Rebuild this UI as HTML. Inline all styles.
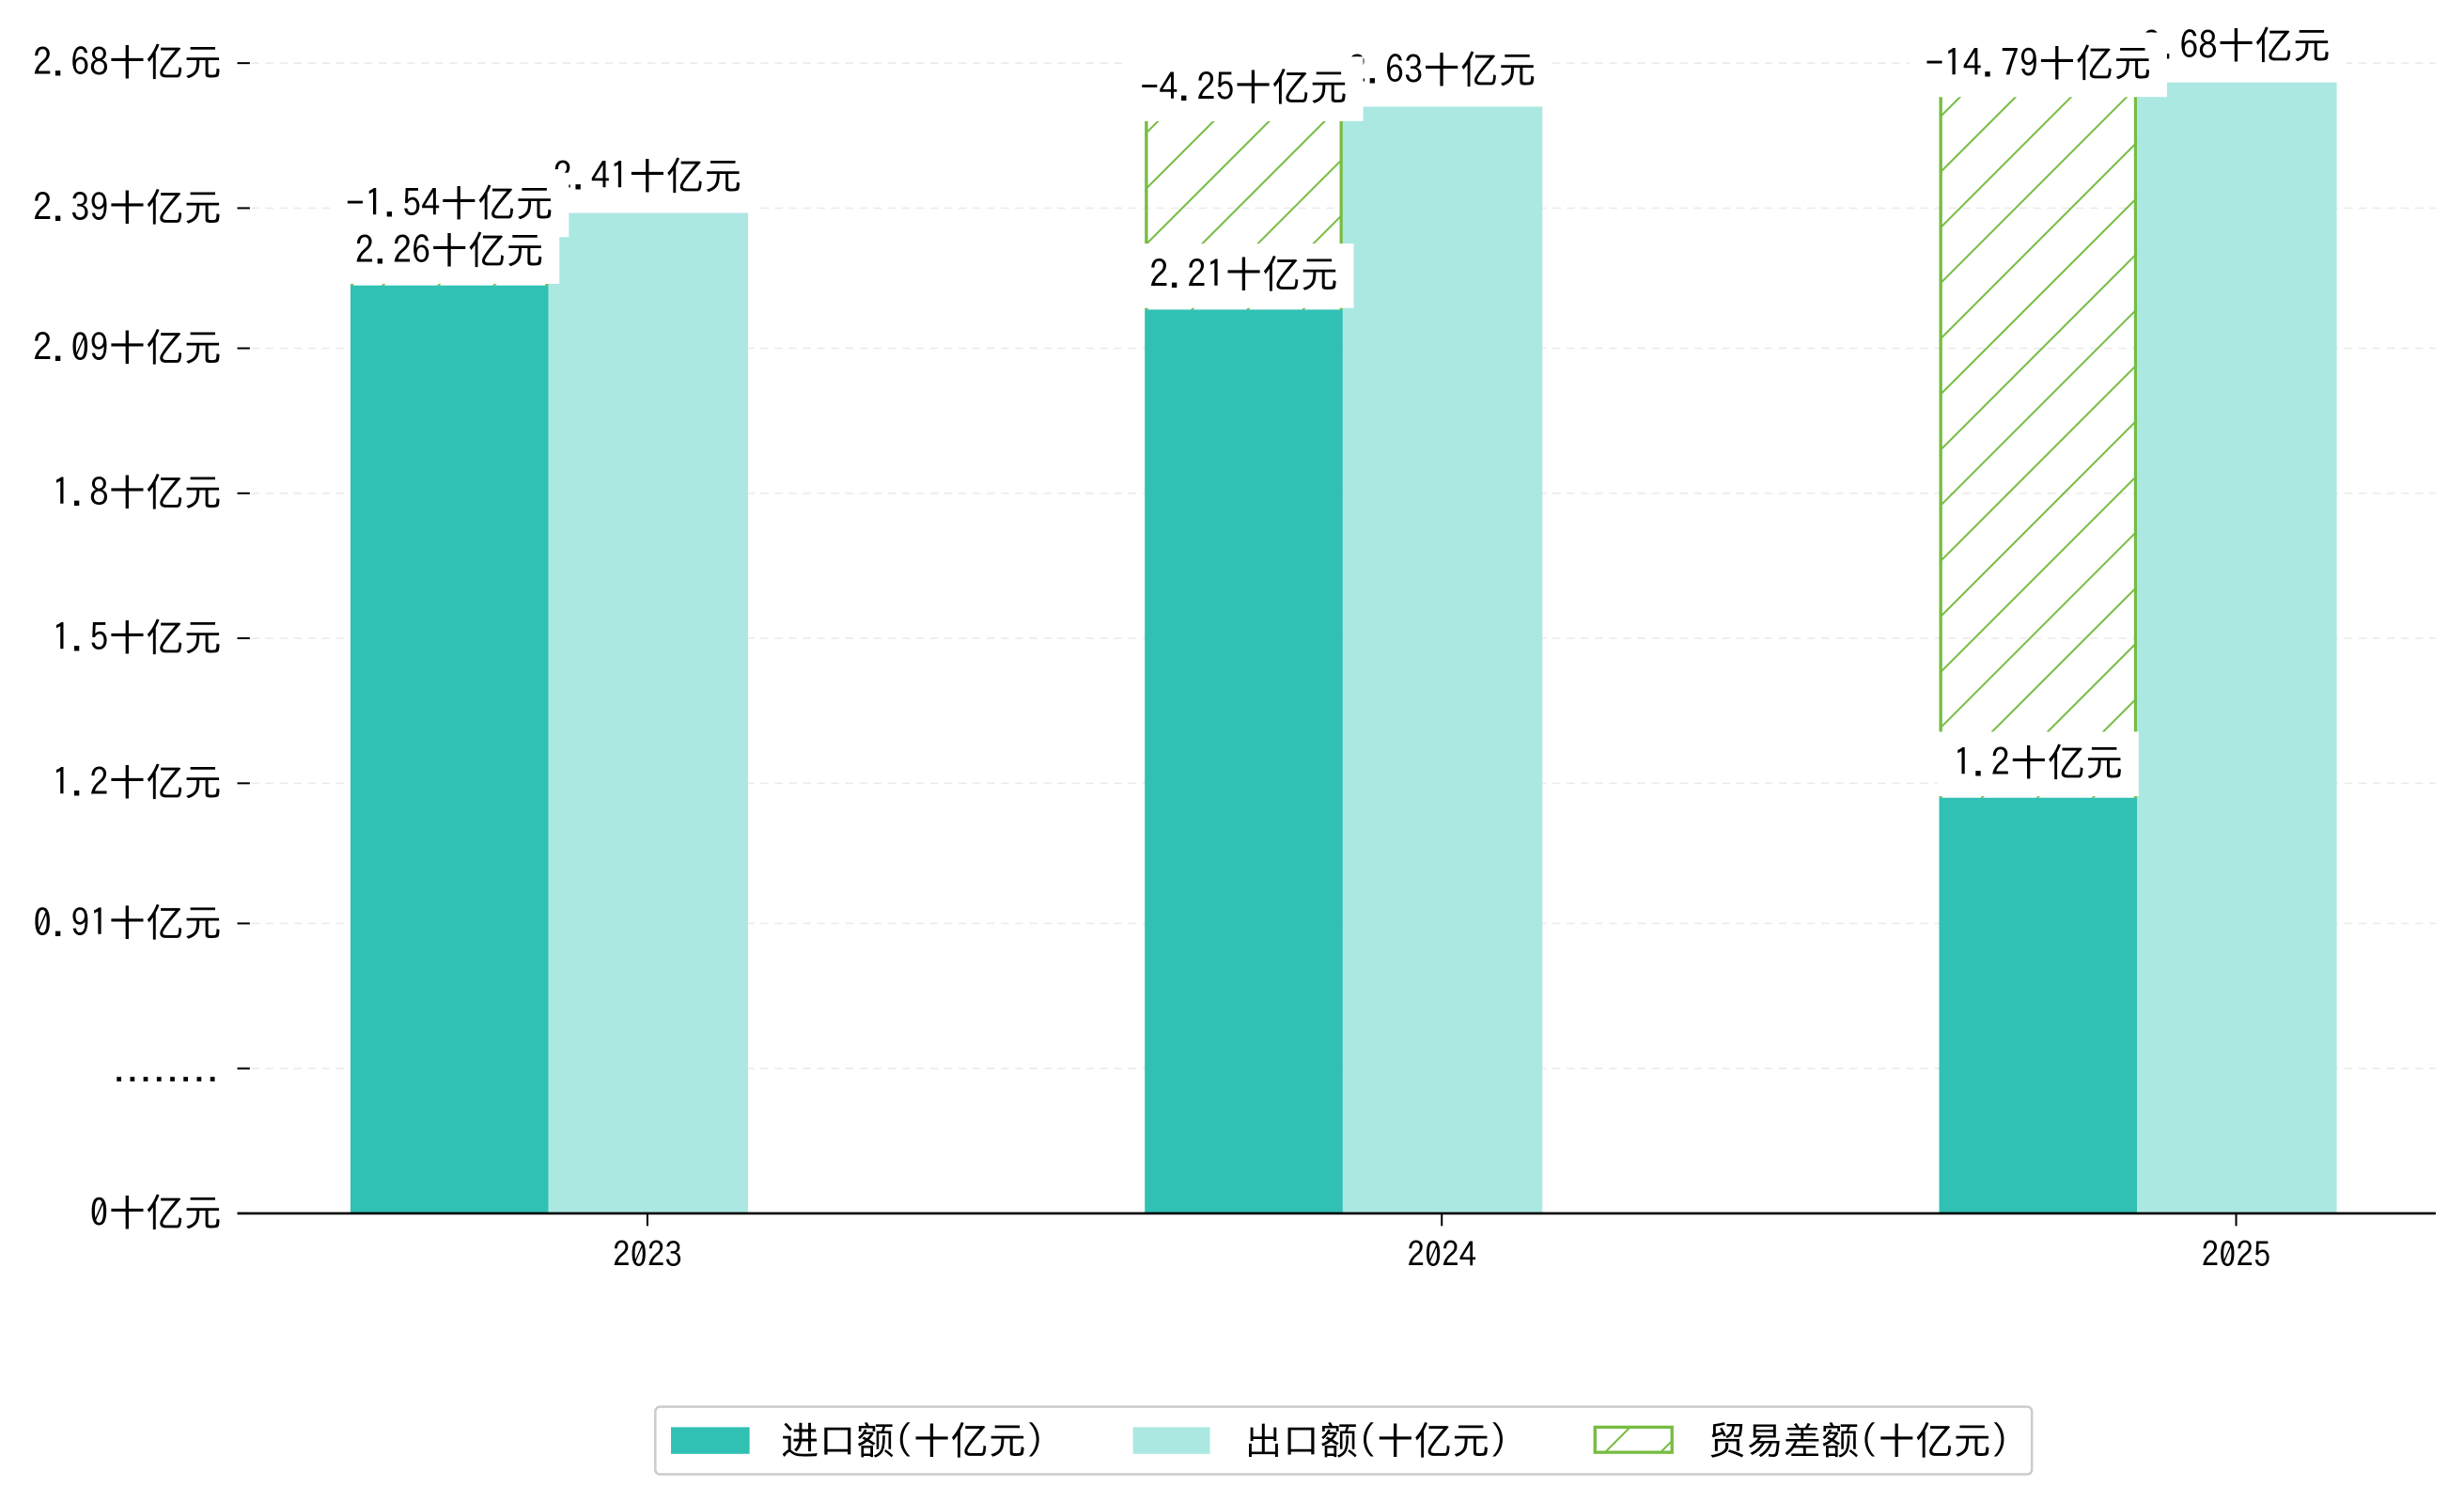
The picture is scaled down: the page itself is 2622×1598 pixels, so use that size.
<!DOCTYPE html>
<html><head><meta charset="utf-8"><style>
html,body{margin:0;padding:0;background:#fff;}
svg{display:block;font-family:"IPAGothic","WenQuanYi Zen Hei","Noto Sans CJK SC",monospace;}
</style></head><body>
<svg id="chart" width="2622" height="1598" viewBox="0 0 1568 955.6" xmlns="http://www.w3.org/2000/svg">
<defs>
<pattern id="hatch" patternUnits="userSpaceOnUse" width="25" height="25" patternTransform="rotate(45)">
<line x1="0" y1="0" x2="0" y2="25" stroke="#76bc43" stroke-width="2.4"/>
</pattern>
</defs>
<g id="grid"></g>
<g id="bars"></g>
<g id="labels"></g>
<g id="axes"></g>
<g id="legend">
<rect x="417" y="895" width="876" height="43" rx="3" fill="#fff" stroke="#ccc" stroke-width="1.5"/>
<rect x="427" y="908" width="50" height="17" fill="#31c0b4"/>
<text x="497" y="925" font-size="24">进口额(十亿元)</text>
<rect x="721" y="908" width="49" height="17" fill="#abe8e2"/>
<text x="792" y="925" font-size="24">出口额(十亿元)</text>
<rect x="1015" y="908" width="49" height="16" fill="url(#hatch)" stroke="#76bc43" stroke-width="2"/>
<text x="1087" y="925" font-size="24">贸易差额(十亿元)</text>
</g>
</svg>
<script>
const categories = ["2023", "2024", "2025"];
const importValues = [2.26, 2.21, 1.2];
const exportValues = [2.41, 2.63, 2.68];
const balanceValues = [-1.54, -4.25, -14.79];
const balanceTops = [2.36, 2.6, 2.65];
const tickValues = [0.34, 0.64, 0.94, 1.23, 1.53, 1.83, 2.13, 2.42, 2.72];
const tickLabels = ["0十亿元", "........", "0.91十亿元", "1.2十亿元", "1.5十亿元", "1.8十亿元", "2.09十亿元", "2.39十亿元", "2.68十亿元"];

const NS = "http://www.w3.org/2000/svg";
const base = 0.34, baseY = 772, pxPer = 1 / 0.003252;
function y(v) { return baseY - (v - base) * pxPer; }
function xc(i) { return 412 + i * 505.5; }
const bw = 126;
function mk(tag, attrs, parent) {
  const e = document.createElementNS(NS, tag);
  for (const k in attrs) e.setAttribute(k, attrs[k]);
  parent.appendChild(e);
  return e;
}
const grid = document.getElementById("grid");
const bars = document.getElementById("bars");
const labels = document.getElementById("labels");
const axes = document.getElementById("axes");

tickValues.forEach((v, i) => {
  const yy = y(v);
  if (i > 0) {
    const g = mk("line", {x1: 151, x2: 1550, y1: yy, y2: yy, stroke: "#ebebeb", "stroke-width": 1, "stroke-dasharray": "5,4"}, grid);
    
    
  }
  const t = mk("line", {x1: 151, x2: 159, y1: yy, y2: yy, stroke: "#000", "stroke-width": 1.2}, axes);
  
  
  const dots = tickLabels[i].indexOf("十") < 0;
  const l = mk("text", {x: 141, y: yy + 8, "text-anchor": "end", "font-size": dots ? 17 : 24, "font-weight": dots ? "bold" : "normal"}, axes);
  l.textContent = tickLabels[i];
  
  
});

function label(txt, cx, cyc, name) {
  const g = mk("g", {}, labels);
  
  
  const r = mk("rect", {fill: "#fff"}, g);
  const t = mk("text", {x: cx, y: cyc + 8, "text-anchor": "middle", "font-size": 24}, g);
  t.textContent = txt;
  const bb = t.getBBox();
  r.setAttribute("x", bb.x - 10); r.setAttribute("width", bb.width + 20);
  r.setAttribute("y", cyc - 20); r.setAttribute("height", 41);
}

categories.forEach((c, i) => {
  const cx = xc(i);
  const ix = cx - 189, ex = cx - 63;
  const yt = y(balanceTops[i]), yb = y(importValues[i]);
  const hb = mk("rect", {x: ix, y: yt, width: bw, height: yb - yt, fill: "url(#hatch)"}, bars);
  
  
  [ix + 1, ix + bw - 1].forEach(xx => {
    const e = mk("line", {x1: xx, x2: xx, y1: yt, y2: yb, stroke: "#76bc43", "stroke-width": 2}, bars);
    
    
  });
  const ib = mk("rect", {x: ix, y: yb, width: bw, height: baseY - yb, fill: "#31c0b4"}, bars);
  
  
  const eb = mk("rect", {x: ex, y: y(exportValues[i]), width: bw + 1, height: baseY - y(exportValues[i]), fill: "#abe8e2"}, bars);
  
  

  label(exportValues[i] + "十亿元", cx, y(exportValues[i]) - 23, "label-export-" + c);
  label(balanceValues[i] + "十亿元", ix + bw / 2, y(balanceTops[i]) - 21, "label-balance-" + c);
  label(importValues[i] + "十亿元", ix + bw / 2, yb - 22, "label-import-" + c);

  const tk = mk("line", {x1: cx, x2: cx, y1: baseY, y2: baseY + 8, stroke: "#000", "stroke-width": 1.2}, axes);
  
  
  const xl = mk("text", {x: cx, y: 806, "text-anchor": "middle", "font-size": 22}, axes);
  xl.textContent = c;
  
  
});
const ax = mk("line", {x1: 151, x2: 1550, y1: baseY, y2: baseY, stroke: "#000", "stroke-width": 1.6}, axes);


</script>
</body></html>
